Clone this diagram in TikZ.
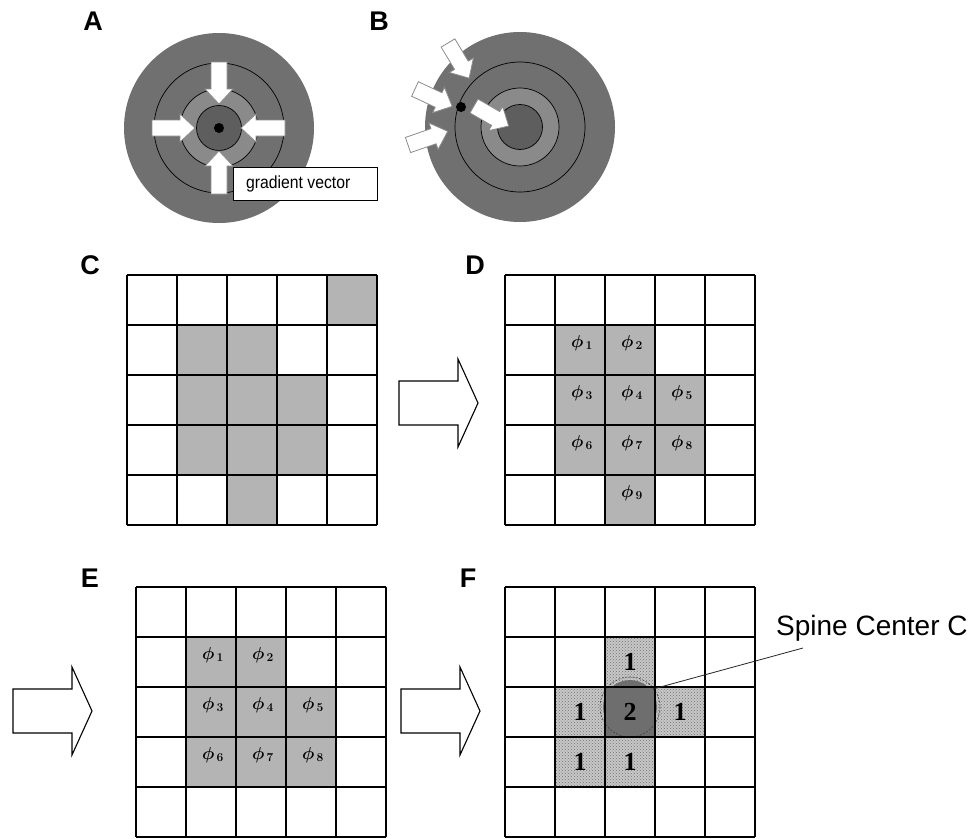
\documentclass[tikz,border=0pt]{standalone}
\usepackage{fontspec}
\usepackage{bm}
\setmainfont{Liberation Sans}
\newfontfamily\numfont{Liberation Serif}
\usetikzlibrary{patterns}
\definecolor{ringgray}{HTML}{707070}
\definecolor{midgray}{HTML}{8A8A8A}
\definecolor{coregray}{HTML}{5E5E5E}
\definecolor{cellgray}{HTML}{B4B4B4}
\definecolor{darkcell}{HTML}{6E6E6E}
\tikzset{
  gridline/.style={line width=2.4pt, line cap=square},
  panellab/.style={font=\fontsize{27}{27}\selectfont\bfseries, inner sep=0},
  philab/.style={font={\fontsize{17}{17}\selectfont}, inner sep=0},
  numlab/.style={font={\fontsize{26}{26}\selectfont\numfont\bfseries}, inner sep=0},
  ringline/.style={draw=black, line width=0.7pt},
  whitearrow/.style={fill=white, draw=black!45, line width=0.8pt},
  outarrow/.style={fill=white, draw=black, line width=1.1pt, line join=miter},
}
% block arrow: tail x, tail y, image angle, length
\newcommand{\blockarr}[4]{%
  \begin{scope}[shift={(#1,#2)}, rotate=-#3]
    \draw[whitearrow] (0,-8) -- ({#4-15},-8) -- ({#4-15},-14) -- (#4,0) -- ({#4-15},14) -- ({#4-15},8) -- (0,8) -- cycle;
  \end{scope}}
% outline arrow: left x, tip y
\newcommand{\bigarr}[2]{%
  \draw[outarrow] (#1,{#2-22}) -- ({#1+59},{#2-22}) -- ({#1+59},{#2-44}) -- ({#1+79},#2) -- ({#1+59},{#2+44}) -- ({#1+59},{#2+22}) -- (#1,{#2+22}) -- cycle;}
\newcommand{\gcell}[5]{\fill[#5] ({#1+50*#3},{#2+50*#4}) rectangle ++(50,50);}
\newcommand{\gridlines}[2]{%
  \foreach \k in {0,...,5}{%
    \draw[gridline] ({#1+50*\k},#2) -- ({#1+50*\k},{#2+250});
    \draw[gridline] (#1,{#2+50*\k}) -- ({#1+250},{#2+50*\k});}}
\newcommand{\rings}[2]{%
  \fill[ringgray] (#1,#2) circle (95);
  \draw[ringline, fill=ringgray] (#1,#2) circle (65);
  \draw[ringline, fill=midgray] (#1,#2) circle (39);
  \draw[ringline, fill=coregray] (#1,#2) circle (22.5);}
\begin{document}
\begin{tikzpicture}[x=1pt,y=-1pt]
\useasboundingbox (0,0) rectangle (974,838);
\fill[white] (0,0) rectangle (974,838);

% ---------- A ----------
\node[panellab] (labA) at (93,21) {A};
\rings{219}{128}
\blockarr{219}{62}{90}{42}
\blockarr{219}{194}{-90}{43}
\blockarr{152}{128}{0}{43}
\blockarr{285}{128}{180}{44}
\fill[black] (219,128) circle (5);
\node[draw=black, fill=white, line width=0.8pt, minimum width=144pt, minimum height=33pt, inner sep=0, anchor=north west] (gbox) at (233,167) {};
\node[anchor=west, inner sep=0, font=\fontsize{17.5}{17.5}\selectfont, xscale=0.9] (gtext) at (246,184) {gradient vector};

% ---------- B ----------
\node[panellab] (labB) at (379,21) {B};
\rings{520}{127}
\blockarr{448}{43}{59}{41}
\blockarr{415}{89}{25}{41}
\blockarr{408}{145}{-19}{42}
\blockarr{474}{106}{30}{40}
\fill[black] (461,107) circle (5);

% ---------- C ----------
\node[panellab] (labC) at (90,265) {C};
\foreach \c/\r in {4/0,1/1,2/1,1/2,2/2,3/2,1/3,2/3,3/3,2/4}{\gcell{127}{275}{\c}{\r}{cellgray}}
\gridlines{127}{275}

% arrow C -> D
\bigarr{399}{403}

% ---------- D ----------
\node[panellab] (labD) at (475,265) {D};
\foreach \c/\r in {1/1,2/1,1/2,2/2,3/2,1/3,2/3,3/3,2/4}{\gcell{505}{275}{\c}{\r}{cellgray}}
\gridlines{505}{275}
\foreach \c/\r/\n in {1/1/1,2/1/2,1/2/3,2/2/4,3/2/5,1/3/6,2/3/7,3/3/8,2/4/9}{
  \node[philab] (d\n) at ({505+50*\c+27},{275+50*\r+18}) {$\bm{\phi}_{\,\bm{\n}}$};}

% ---------- E ----------
\node[panellab] (labE) at (90,578) {E};
\bigarr{13}{711}
\foreach \c/\r in {1/1,2/1,1/2,2/2,3/2,1/3,2/3,3/3}{\gcell{136}{587}{\c}{\r}{cellgray}}
\gridlines{136}{587}
\foreach \c/\r/\n in {1/1/1,2/1/2,1/2/3,2/2/4,3/2/5,1/3/6,2/3/7,3/3/8}{
  \node[philab] (e\n) at ({136+50*\c+27},{587+50*\r+18}) {$\bm{\phi}_{\,\bm{\n}}$};}

% ---------- F ----------
\node[panellab] (labF) at (468,578) {F};
\bigarr{401}{711}
\foreach \c/\r in {2/1,1/2,3/2,1/3,2/3}{
  \gcell{505}{587}{\c}{\r}{black!22}
  \gcell{505}{587}{\c}{\r}{pattern=crosshatch dots, pattern color=black!55}}
\gcell{505}{587}{2}{2}{darkcell}
\fill[darkcell] (630,707) circle (27);
\draw[black!75, line width=0.6pt, dash pattern=on 2pt off 1.5pt] (630,707) circle (30);
\gridlines{505}{587}
\node[numlab] (f1) at (630,662) {1};
\node[numlab] (f2) at (580,712) {1};
\node[numlab] (f3) at (630,712) {2};
\node[numlab] (f4) at (680,712) {1};
\node[numlab] (f5) at (580,762) {1};
\node[numlab] (f6) at (630,762) {1};
\coordinate (cc) at (653,689);
\node[anchor=base west, inner sep=0, font=\fontsize{28}{28}\selectfont] (spine) at (776,635) {Spine Center C};
\coordinate (lead) at (803,648);
\draw[black!85, line width=0.8pt] (cc) -- (lead);
\end{tikzpicture}
\end{document}
